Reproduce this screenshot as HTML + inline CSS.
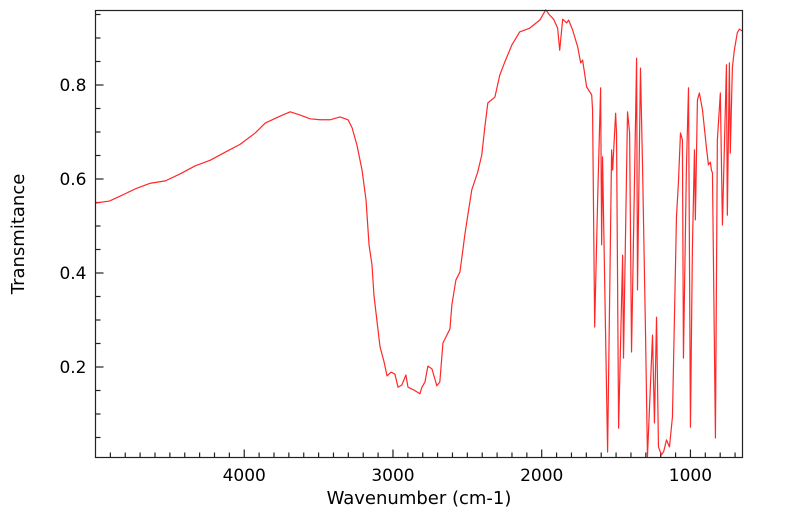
<!DOCTYPE html>
<html><head><meta charset="utf-8">
<style>
html,body{margin:0;padding:0;background:#fff;width:799px;height:516px;overflow:hidden}
svg text{font-family:"DejaVu Sans","Liberation Sans",sans-serif;fill:#000}
</style></head>
<body>
<svg id="chart" width="799" height="516" viewBox="0 0 799 516" xmlns="http://www.w3.org/2000/svg">
<rect x="0" y="0" width="799" height="516" fill="#fff"/>
<g id="ticks"></g>
<path id="spectrum" fill="none" stroke="#ff2828" stroke-width="1.2" stroke-linejoin="round"/>
<rect x="95.5" y="10.5" width="647" height="447" fill="none" stroke="#222" stroke-width="1.2"/>
<text x="419" y="504" font-size="18" text-anchor="middle">Wavenumber (cm-1)</text>
<text transform="translate(24,234) rotate(-90)" font-size="18" text-anchor="middle">Transmitance</text>
</svg>
<script>
const wavenumbers=[5000,4906,4832,4732,4631,4530,4430,4329,4228,4128,4027,3926,3859,3758,3691,3624,3557,3490,3423,3356,3302,3275,3242,3208,3181,3161,3141,3128,3107,3087,3060,3040,3013,2987,2966,2940,2913,2899,2859,2819,2805,2785,2765,2738,2705,2685,2664,2617,2604,2577,2550,2530,2517,2497,2470,2430,2403,2383,2362,2315,2282,2248,2201,2148,2081,2013,1973,1950,1920,1893,1879,1859,1832,1819,1792,1758,1738,1725,1698,1664,1658,1644,1624,1604,1597,1591,1557,1530,1523,1503,1497,1483,1456,1450,1423,1409,1396,1362,1356,1336,1322,1302,1289,1255,1242,1228,1215,1195,1180,1161,1141,1121,1094,1081,1067,1054,1047,1027,1013,1000,987,973,967,953,940,919,893,879,866,859,852,832,819,799,785,758,752,738,732,718,705,685,671,651];
const transmittance=[0.549,0.553,0.564,0.579,0.591,0.596,0.611,0.628,0.640,0.657,0.674,0.698,0.719,0.734,0.743,0.736,0.728,0.726,0.726,0.732,0.726,0.709,0.672,0.619,0.555,0.460,0.417,0.353,0.296,0.243,0.211,0.181,0.189,0.185,0.157,0.162,0.183,0.157,0.151,0.143,0.157,0.168,0.202,0.196,0.160,0.168,0.251,0.281,0.332,0.385,0.402,0.449,0.481,0.523,0.577,0.615,0.651,0.709,0.762,0.774,0.821,0.849,0.885,0.913,0.921,0.938,0.960,0.950,0.940,0.921,0.874,0.940,0.932,0.938,0.917,0.881,0.847,0.853,0.796,0.779,0.747,0.285,0.555,0.794,0.460,0.647,0.019,0.662,0.619,0.740,0.698,0.070,0.438,0.219,0.743,0.698,0.232,0.857,0.364,0.836,0.626,0.272,0.009,0.268,0.081,0.306,0.030,0.013,0.020,0.045,0.030,0.094,0.519,0.591,0.698,0.683,0.219,0.626,0.794,0.072,0.449,0.662,0.513,0.768,0.783,0.747,0.668,0.630,0.636,0.619,0.613,0.049,0.683,0.783,0.502,0.843,0.523,0.847,0.655,0.838,0.874,0.911,0.919,0.915];
const xTickLabels=[4000,3000,2000,1000];
const yTickLabels=[0.2,0.4,0.6,0.8];

const X0=95.5,X1=742.5,Y0=10.5,Y1=457.5;
const WMAX=5000,WMIN=650;
function xs(w){return X0+(WMAX-w)/(WMAX-WMIN)*(X1-X0);}
function ys(t){return 461-t*470;}

const NS="http://www.w3.org/2000/svg";
let d="";
for(let i=0;i<wavenumbers.length;i++){
  d+=(i?"L":"M")+xs(wavenumbers[i]).toFixed(2)+","+Math.min(Y1,ys(transmittance[i])).toFixed(2);
}
document.getElementById("spectrum").setAttribute("d",d);

const g=document.getElementById("ticks");
function line(x1,y1,x2,y2,name){
  const l=document.createElementNS(NS,"line");
  l.setAttribute("x1",x1);l.setAttribute("y1",y1);l.setAttribute("x2",x2);l.setAttribute("y2",y2);
  l.setAttribute("stroke","#222");l.setAttribute("stroke-width","1.2");
  
  
  g.appendChild(l);
}
function label(x,y,txt,anchor,name){
  const t=document.createElementNS(NS,"text");
  t.setAttribute("x",x);t.setAttribute("y",y);t.setAttribute("font-size","17");t.setAttribute("text-anchor",anchor);
  t.textContent=txt;
  
  
  g.appendChild(t);
}
for(let w=4900;w>=700;w-=100){
  const x=xs(w);
  const major=w%1000===0;
  line(x,Y1,x,Y1-(major?8:5),major?"x-major-tick":"x-minor-tick");
}
xTickLabels.forEach(v=>label(xs(v),481,String(v),"middle","x-tick-label"));
for(let k=1;k<=19;k++){
  const t=k*0.05;
  const y=ys(t);
  if(y<Y0+1||y>Y1)continue;
  const major=k%4===0;
  line(X0,y,X0+(major?8:5),y,major?"y-major-tick":"y-minor-tick");
}
yTickLabels.forEach(v=>label(X0-9,ys(v)+6,v.toFixed(1),"end","y-tick-label"));
</script>
</body></html>
